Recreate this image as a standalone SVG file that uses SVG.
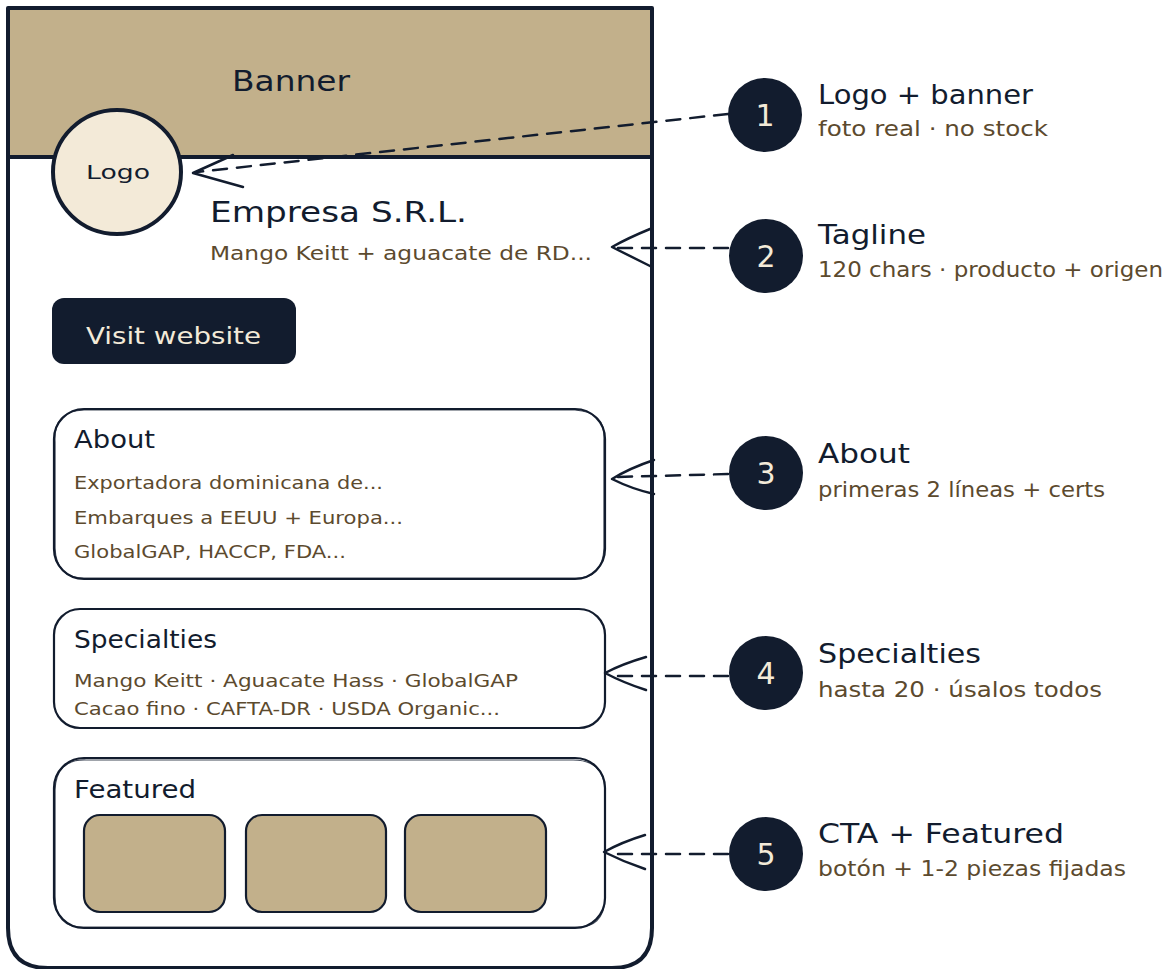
<svg xmlns="http://www.w3.org/2000/svg" width="1169" height="969" viewBox="0 0 1169 969">
<style>
.ink{stroke:#121c2e;stroke-linecap:round;stroke-linejoin:round}
.box{fill:none}
.tile{fill:#c2b08b}
.cream{fill:#f3ead8}
.t{font-family:"DejaVu Sans","Liberation Sans",sans-serif;fill:#121c2e}
.b{font-family:"DejaVu Sans","Liberation Sans",sans-serif;fill:#5c4a2e}
.c{font-family:"DejaVu Sans","Liberation Sans",sans-serif;fill:#f3ead8}
.dash{fill:none;stroke:#121c2e;stroke-width:2.5;stroke-dasharray:14 10;stroke-linecap:round}
.head{fill:none;stroke:#121c2e;stroke-width:2.5;stroke-linecap:round;stroke-linejoin:round}
.num{fill:#121c2e}
</style>
<rect width="1169" height="969" fill="#ffffff"/>
<g id="phone">
  <path d="M8,8 H652 V928 Q652,968 612,968 H48 Q8,968 8,928 Z" fill="#ffffff"/>
  <rect x="8" y="8" width="644" height="149" fill="#c2b08b"/>
  <line x1="8" y1="157" x2="652" y2="157" class="ink" stroke-width="4"/>
  <path d="M8,8 H652 V928 Q652,968 612,968 H48 Q8,968 8,928 Z" class="ink box" stroke-width="4"/>
  <text x="232" y="91" class="t" font-size="28" textLength="118" lengthAdjust="spacingAndGlyphs">Banner</text>
</g>
<g id="logo">
  <ellipse cx="117" cy="172" rx="64" ry="62" class="ink cream" stroke-width="4"/>
  <text x="86" y="179" class="t" font-size="20" textLength="64" lengthAdjust="spacingAndGlyphs">Logo</text>
</g>
<g id="company">
  <text x="210" y="222" class="t" font-size="29" textLength="257" lengthAdjust="spacingAndGlyphs">Empresa S.R.L.</text>
  <text x="210" y="260" class="b" font-size="20" textLength="382" lengthAdjust="spacingAndGlyphs">Mango Keitt + aguacate de RD...</text>
</g>
<g id="button">
  <rect x="52" y="298" width="244" height="66" rx="12" fill="#121c2e"/>
  <text x="86" y="344" class="c" font-size="23" textLength="175" lengthAdjust="spacingAndGlyphs">Visit website</text>
</g>
<g id="about">
  <rect x="54" y="409" width="551" height="170" rx="30" class="ink box" stroke-width="2.2"/>
  <path d="M84,410 H575 Q606,412 604,440 V548 Q603,580 573,578 H86 Q56,579 55,548 V442 Q53,411 84,410" class="ink box" stroke-width="1.2" opacity="0.8"/>
  <text x="74" y="448" class="t" font-size="24" textLength="81" lengthAdjust="spacingAndGlyphs">About</text>
  <text x="74" y="489" class="b" font-size="18" textLength="309" lengthAdjust="spacingAndGlyphs">Exportadora dominicana de...</text>
  <text x="74" y="524" class="b" font-size="18" textLength="329" lengthAdjust="spacingAndGlyphs">Embarques a EEUU + Europa...</text>
  <text x="74" y="558" class="b" font-size="18" textLength="272" lengthAdjust="spacingAndGlyphs">GlobalGAP, HACCP, FDA...</text>
</g>
<g id="specialties">
  <rect x="54" y="609" width="551" height="119" rx="26" class="ink box" stroke-width="2.2"/>
  <text x="74" y="648" class="t" font-size="24" textLength="143" lengthAdjust="spacingAndGlyphs">Specialties</text>
  <text x="74" y="687" class="b" font-size="18" textLength="444" lengthAdjust="spacingAndGlyphs">Mango Keitt · Aguacate Hass · GlobalGAP</text>
  <text x="74" y="715" class="b" font-size="18" textLength="426" lengthAdjust="spacingAndGlyphs">Cacao fino · CAFTA-DR · USDA Organic...</text>
</g>
<g id="featured">
  <rect x="54" y="758" width="551" height="170" rx="30" class="ink box" stroke-width="2.2"/>
  <path d="M86,760 H573 Q604,760 605,790 V898 Q604,929 574,927 H84 Q55,928 55,896 V790 Q56,759 86,760" class="ink box" stroke-width="1.2" opacity="0.8"/>
  <text x="74" y="798" class="t" font-size="24" textLength="122" lengthAdjust="spacingAndGlyphs">Featured</text>
  <rect x="84" y="815" width="141" height="97" rx="16" class="ink tile" stroke-width="2.2"/>
  <rect x="246" y="815" width="140" height="97" rx="16" class="ink tile" stroke-width="2.2"/>
  <rect x="405" y="815" width="141" height="97" rx="16" class="ink tile" stroke-width="2.2"/>
</g>
<g id="connectors">
  <path d="M728,114 L197,172" class="dash"/>
  <path d="M233,155 L193,173 L243,187" class="head"/>
  <path d="M728,248 L616,248" class="dash"/>
  <path d="M650,229 Q628,238 612,247 Q630,256 650,266" class="head"/>
  <path d="M728,474 L616,477" class="dash"/>
  <path d="M654,460 Q630,468 612,479 Q632,489 654,494" class="head"/>
  <path d="M728,676 L610,676" class="dash"/>
  <path d="M646,657 Q622,664 605,673 Q624,683 646,690" class="head"/>
  <path d="M728,854 L609,854" class="dash"/>
  <path d="M645,835 Q622,842 604,852 Q624,862 645,869" class="head"/>
</g>
<g id="callout1">
  <circle cx="765" cy="115" r="37" class="num"/>
  <text x="765" y="126" class="c" font-size="30" text-anchor="middle">1</text>
  <text x="818" y="104" class="t" font-size="27" textLength="215" lengthAdjust="spacingAndGlyphs">Logo + banner</text>
  <text x="818" y="136" class="b" font-size="21" textLength="230" lengthAdjust="spacingAndGlyphs">foto real · no stock</text>
</g>
<g id="callout2">
  <circle cx="766" cy="256" r="37" class="num"/>
  <text x="766" y="267" class="c" font-size="30" text-anchor="middle">2</text>
  <text x="818" y="244" class="t" font-size="27" textLength="108" lengthAdjust="spacingAndGlyphs">Tagline</text>
  <text x="818" y="277" class="b" font-size="21" textLength="345" lengthAdjust="spacingAndGlyphs">120 chars · producto + origen</text>
</g>
<g id="callout3">
  <circle cx="766" cy="473" r="37" class="num"/>
  <text x="766" y="484" class="c" font-size="30" text-anchor="middle">3</text>
  <text x="818" y="463" class="t" font-size="27" textLength="92" lengthAdjust="spacingAndGlyphs">About</text>
  <text x="818" y="497" class="b" font-size="21" textLength="287" lengthAdjust="spacingAndGlyphs">primeras 2 líneas + certs</text>
</g>
<g id="callout4">
  <circle cx="766" cy="673" r="37" class="num"/>
  <text x="766" y="684" class="c" font-size="30" text-anchor="middle">4</text>
  <text x="818" y="663" class="t" font-size="27" textLength="163" lengthAdjust="spacingAndGlyphs">Specialties</text>
  <text x="818" y="697" class="b" font-size="21" textLength="284" lengthAdjust="spacingAndGlyphs">hasta 20 · úsalos todos</text>
</g>
<g id="callout5">
  <circle cx="766" cy="854" r="37" class="num"/>
  <text x="766" y="865" class="c" font-size="30" text-anchor="middle">5</text>
  <text x="818" y="843" class="t" font-size="27" textLength="246" lengthAdjust="spacingAndGlyphs">CTA + Featured</text>
  <text x="818" y="876" class="b" font-size="21" textLength="308" lengthAdjust="spacingAndGlyphs">botón + 1-2 piezas fijadas</text>
</g>
</svg>
